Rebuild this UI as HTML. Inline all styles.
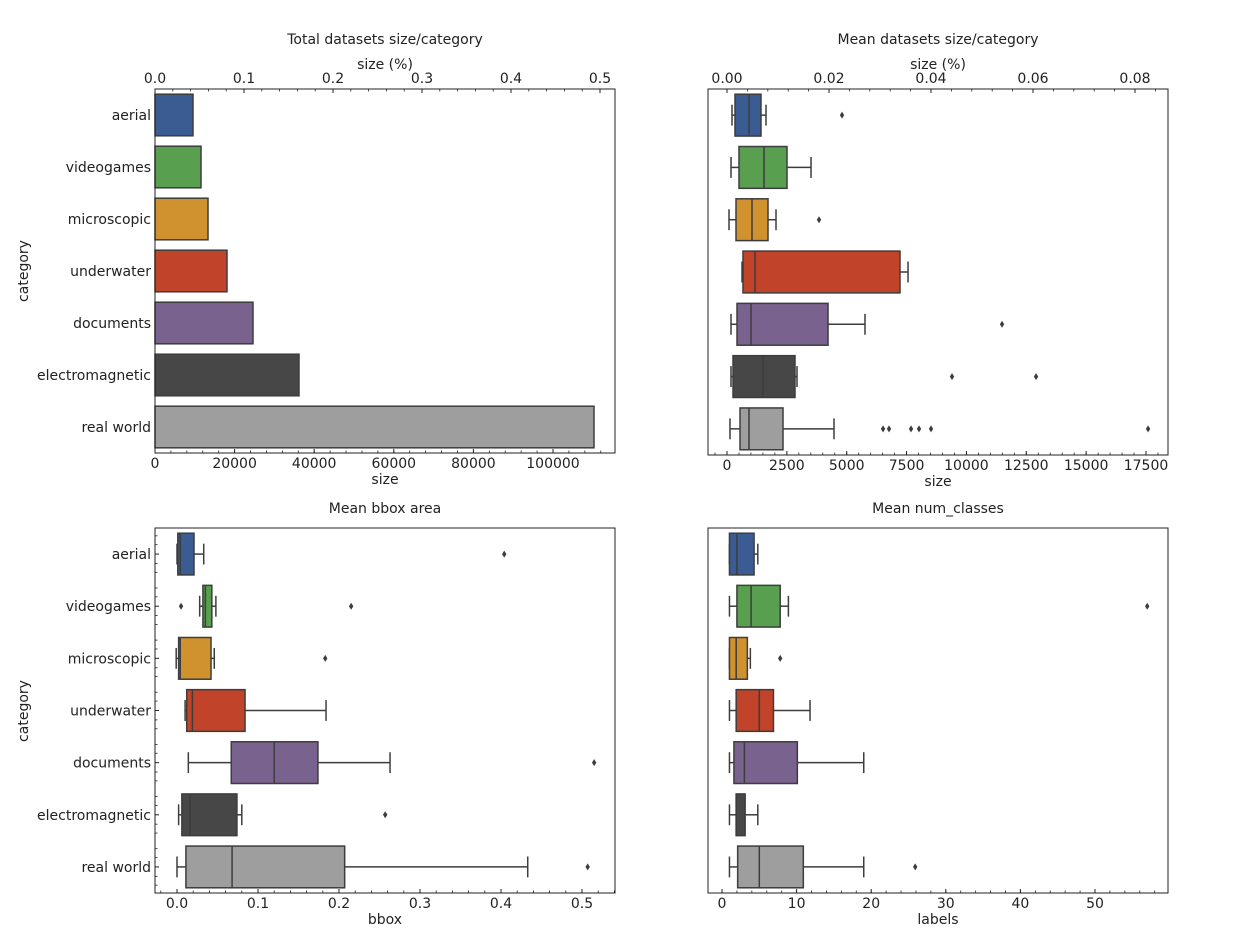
<!DOCTYPE html>
<html><head><meta charset="utf-8"><style>
body{margin:0;background:#fff;}
svg{display:block;font-family:"DejaVu Sans","Liberation Sans",sans-serif;}
</style></head><body>
<svg id="fig" width="1260" height="939" viewBox="0 0 1260 939" xmlns="http://www.w3.org/2000/svg"></svg>
<script>
const categories = ["aerial","videogames","microscopic","underwater","documents","electromagnetic","real world"];
const colors = ["#3b5c93","#58a04f","#d0912f","#c0432a","#7a628e","#474747","#9e9e9e"];
const totalSize = [9548,11558,13317,18090,24623,36180,110300];
// [lo, q1, med, q3, hi]
const meanSizeBox = [[209,334,919,1420,1629],[167,501,1545,2506,3509],[84,376,1044,1713,2047],[627,668,1170,7226,7561],[167,418,1003,4219,5764],[167,251,1504,2840,2924],[125,543,919,2339,4469]];
const meanSizeOut = [[4804],[],[3843],[],[11487],[9398,12907],[6517,6767,7686,8020,8521,17586]];
const bboxBox = [[0,0.001,0.004,0.021,0.033],[0.028,0.032,0.035,0.043,0.048],[-0.001,0.002,0.004,0.042,0.046],[0.010,0.012,0.019,0.084,0.184],[0.014,0.067,0.120,0.174,0.263],[0.002,0.006,0.016,0.074,0.080],[0,0.011,0.068,0.207,0.433]];
const bboxOut = [[0.404],[0.005,0.215],[0.183],[],[0.515],[0.257],[0.507]];
const classBox = [[1,1,2,4.3,4.8],[1,2,3.9,7.8,8.9],[1,1,1.9,3.4,3.8],[1,1.9,5,6.9,11.8],[1,1.6,3,10.1,19],[1,1.9,1.9,3.1,4.8],[1,2.1,5,10.9,19]];
const classOut = [[],[57],[7.8],[],[],[],[25.9]];
const ticksTotal = [0,20000,40000,60000,80000,100000];
const ticksTotalPct = [0,0.1,0.2,0.3,0.4,0.5];
const ticksMean = [0,2500,5000,7500,10000,12500,15000,17500];
const ticksMeanPct = [0,0.02,0.04,0.06,0.08];
const ticksBbox = [0,0.1,0.2,0.3,0.4,0.5];
const ticksClass = [0,10,20,30,40,50];

const NS="http://www.w3.org/2000/svg";
const svg=document.getElementById('fig');
const FS=14;
function el(tag,attrs,parent,text){const e=document.createElementNS(NS,tag);for(const k in attrs)e.setAttribute(k,attrs[k]);if(text!==undefined)e.textContent=text;(parent||svg).appendChild(e);return e;}
function lin(d0,d1,r0,r1){return v=>r0+(v-d0)*(r1-r0)/(d1-d0);}
const EDGE="#3d3d3d";

function panel(name,x0,x1,y0,y1,xs,ticks,fmt,xlabel,title,showY){
  const g=el('g',{}, svg);
  
  
  const step=(y1-y0)/categories.length;
  const yc=i=>y0+step*(i+0.5);
  categories.forEach((c,i)=>{
    const y=yc(i);
    if(showY){
      const t=el('text',{x:x0-4,y:y+5,'text-anchor':'end','font-size':FS,fill:'#222'},g,c);
      
      
      el('line',{x1:x0,x2:x0+4,y1:y,y2:y,stroke:'#222','stroke-width':1},g);
      for(const d of [-0.35,-0.18,0.18,0.35]) el('line',{x1:x0,x2:x0+2.5,y1:y+d*step,y2:y+d*step,stroke:'#222','stroke-width':0.8},g);
    }
  });
  ticks.forEach(v=>{
    const x=xs(v);
    el('line',{x1:x,x2:x,y1:y1,y2:y1-4,stroke:'#222'},g);
    const t=el('text',{x:x,y:y1+15,'text-anchor':'middle','font-size':FS,fill:'#222'},g,fmt(v));
    
    
  });
  const st=ticks[1]-ticks[0];
  for(let v=ticks[0]-st;v<=ticks[ticks.length-1]+st;v+=st/5){const x=xs(v);if(x>x0&&x<x1)el('line',{x1:x,x2:x,y1:y1,y2:y1-2.5,stroke:'#222','stroke-width':0.8},g);}
  const xl=el('text',{x:(x0+x1)/2,y:y1+31,'text-anchor':'middle','font-size':FS,fill:'#222'},g,xlabel);
  
  
  const tt=el('text',{x:(x0+x1)/2,y:title[1],'text-anchor':'middle','font-size':FS,fill:'#222'},g,title[0]);
  
  
  return {g,yc,step};
}
function frame(g,x0,x1,y0,y1){el('rect',{x:x0,y:y0,width:x1-x0,height:y1-y0,fill:'none',stroke:'#222','stroke-width':1},g);}

function boxes(p,xs,box,outs){
  box.forEach((b,i)=>{
    const y=p.yc(i),h=p.step*0.8;
    const gg=el('g',{},p.g);
    
    
    el('line',{x1:xs(b[0]),x2:xs(b[1]),y1:y,y2:y,stroke:EDGE,'stroke-width':1.5},gg);
    el('line',{x1:xs(b[3]),x2:xs(b[4]),y1:y,y2:y,stroke:EDGE,'stroke-width':1.5},gg);
    el('line',{x1:xs(b[0]),x2:xs(b[0]),y1:y-h/4,y2:y+h/4,stroke:EDGE,'stroke-width':1.5},gg);
    el('line',{x1:xs(b[4]),x2:xs(b[4]),y1:y-h/4,y2:y+h/4,stroke:EDGE,'stroke-width':1.5},gg);
    el('rect',{x:xs(b[1]),y:y-h/2,width:Math.max(1,xs(b[3])-xs(b[1])),height:h,fill:colors[i],stroke:EDGE,'stroke-width':1.5},gg);
    el('line',{x1:xs(b[2]),x2:xs(b[2]),y1:y-h/2,y2:y+h/2,stroke:EDGE,'stroke-width':1.5},gg);
    outs[i].forEach(o=>{const x=xs(o);const d=el('path',{d:`M${x},${y-3.5}L${x+2.2},${y}L${x},${y+3.5}L${x-2.2},${y}Z`,fill:EDGE},gg);
      
      });
  });
}

{
  const x0=155,x1=615,y0=89,y1=453;
  const xs=lin(0,100000,155,553);
  const p=panel('total-size-panel',x0,x1,y0,y1,xs,ticksTotal,v=>String(v),'size',['Total datasets size/category',44],true);
  totalSize.forEach((v,i)=>{const y=p.yc(i),h=p.step*0.8;
    const r=el('rect',{x:xs(0),y:y-h/2,width:xs(v)-xs(0),height:h,fill:colors[i],stroke:EDGE,'stroke-width':1.5},p.g);
    
    });
  const xp=lin(0,0.5,155,600);
  ticksTotalPct.forEach(v=>{const x=xp(v);el('line',{x1:x,x2:x,y1:y0,y2:y0+4,stroke:'#222'},p.g);
    el('text',{x:x,y:y0-6,'text-anchor':'middle','font-size':FS,fill:'#222'},p.g,v.toFixed(1));});
  for(let v=0;v<=0.52;v+=0.02){const x=xp(v);if(x<x1)el('line',{x1:x,x2:x,y1:y0,y2:y0+2.5,stroke:'#222','stroke-width':0.8},p.g);}
  el('text',{x:385,y:69,'text-anchor':'middle','font-size':FS,fill:'#222'},p.g,'size (%)');
  const yl=el('text',{x:28,y:271,'text-anchor':'middle','font-size':FS,fill:'#222',transform:'rotate(-90 28 271)'},p.g,'category');
  
  
  frame(p.g,x0,x1,y0,y1);
}
{
  const x0=708,x1=1168,y0=89,y1=455;
  const xs=lin(0,17500,727,1146);
  const p=panel('mean-size-panel',x0,x1,y0,y1,xs,ticksMean,v=>String(v),'size',['Mean datasets size/category',44],false);
  boxes(p,xs,meanSizeBox,meanSizeOut);
  const xp=lin(0,0.08,727,1135);
  ticksMeanPct.forEach(v=>{const x=xp(v);el('line',{x1:x,x2:x,y1:y0,y2:y0+4,stroke:'#222'},p.g);
    el('text',{x:x,y:y0-6,'text-anchor':'middle','font-size':FS,fill:'#222'},p.g,v.toFixed(2));});
  for(let v=-0.004;v<=0.09;v+=0.004){const x=xp(v);if(x>x0&&x<x1)el('line',{x1:x,x2:x,y1:y0,y2:y0+2.5,stroke:'#222','stroke-width':0.8},p.g);}
  el('text',{x:938,y:69,'text-anchor':'middle','font-size':FS,fill:'#222'},p.g,'size (%)');
  frame(p.g,x0,x1,y0,y1);
}
{
  const x0=155,x1=615,y0=528,y1=893;
  const xs=lin(0,0.5,177,582);
  const p=panel('bbox-panel',x0,x1,y0,y1,xs,ticksBbox,v=>v.toFixed(1),'bbox',['Mean bbox area',513],true);
  boxes(p,xs,bboxBox,bboxOut);
  const yl=el('text',{x:28,y:711,'text-anchor':'middle','font-size':FS,fill:'#222',transform:'rotate(-90 28 711)'},p.g,'category');
  
  
  frame(p.g,x0,x1,y0,y1);
}
{
  const x0=708,x1=1168,y0=528,y1=893;
  const xs=lin(0,50,722,1095);
  const p=panel('num-classes-panel',x0,x1,y0,y1,xs,ticksClass,v=>String(v),'labels',['Mean num_classes',513],false);
  boxes(p,xs,classBox,classOut);
  frame(p.g,x0,x1,y0,y1);
}
</script>
</body></html>
